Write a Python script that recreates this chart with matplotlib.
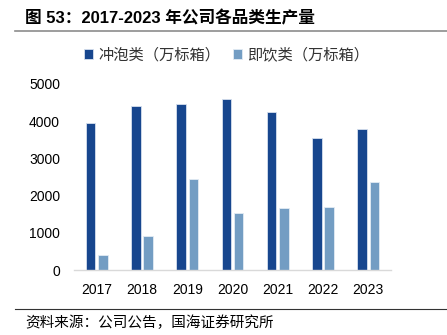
import matplotlib
matplotlib.use("Agg")
import matplotlib.pyplot as plt
import numpy as np

plt.rcParams['font.family'] = ['Liberation Sans', 'Noto Sans CJK SC', 'DejaVu Sans']

years = ['2017', '2018', '2019', '2020', '2021', '2022', '2023']
brew = [3940, 4417, 4454, 4588, 4256, 3539, 3781]
ready = [403, 914, 2446, 1523, 1658, 1684, 2366]
series_names = ['冲泡类（万标箱）', '即饮类（万标箱）']
yticks = [0, 1000, 2000, 3000, 4000, 5000]

fig = plt.figure(figsize=(4.47, 3.35), dpi=100)
ax = fig.add_axes([74 / 447, 1 - 270 / 335, 317 / 447, (270 - 84) / 335])

x = np.arange(len(years))
w = 0.21
off = 0.135
b1 = ax.bar(x - off, brew, w, color='#17468e', edgecolor='#d6e0ee', linewidth=0.6, label=series_names[0])
b2 = ax.bar(x + off, ready, w, color='#739dc3', edgecolor='#e3ebf4', linewidth=0.6, label=series_names[1])

ax.set_xlim(-0.5, len(years) - 0.5)
ax.set_ylim(0, 5000)
ax.set_yticks(yticks)
ax.set_yticklabels([str(v) for v in yticks], fontsize=10)
ax.set_xticks(x)
ax.set_xticklabels(years, fontsize=10)
ax.tick_params(axis='both', length=0, colors='#000000')
ax.tick_params(axis='y', pad=10)
ax.tick_params(axis='x', pad=9)
for s in ['left', 'right', 'top']:
    ax.spines[s].set_visible(False)
ax.spines['bottom'].set_color('#d9d9d9')
ax.spines['bottom'].set_linewidth(1.0)

leg = fig.legend(handles=[b1, b2], labels=series_names, loc='center left',
                 bbox_to_anchor=(78 / 447, 1 - 55 / 335), ncol=2, frameon=False,
                 fontsize=11, handlelength=0.6, handleheight=0.6,
                 handletextpad=0.35, columnspacing=0.8, borderaxespad=0)
for t in leg.get_texts():
    t.set_family(['Noto Sans CJK SC', 'DejaVu Sans'])
    t.set_color('#333333')

fig.text(25 / 447, 1 - 18 / 335, '图 53：2017-2023 年公司各品类生产量', fontsize=12,
         fontweight='bold', va='center', ha='left',
         family=['Liberation Sans', 'Noto Sans CJK SC', 'DejaVu Sans'])
fig.add_artist(plt.Line2D([15 / 447, 1], [1 - 31 / 335] * 2, color='#8c8c8c', linewidth=1.2))
fig.add_artist(plt.Line2D([15 / 447, 1], [1 - 309 / 335] * 2, color='#333333', linewidth=0.8))
fig.text(25 / 447, 1 - 323 / 335, '资料来源：公司公告，国海证券研究所', fontsize=10.5,
         va='center', ha='left', family=['Noto Sans CJK SC', 'DejaVu Sans'])

fig.savefig('out.png', dpi=100)
